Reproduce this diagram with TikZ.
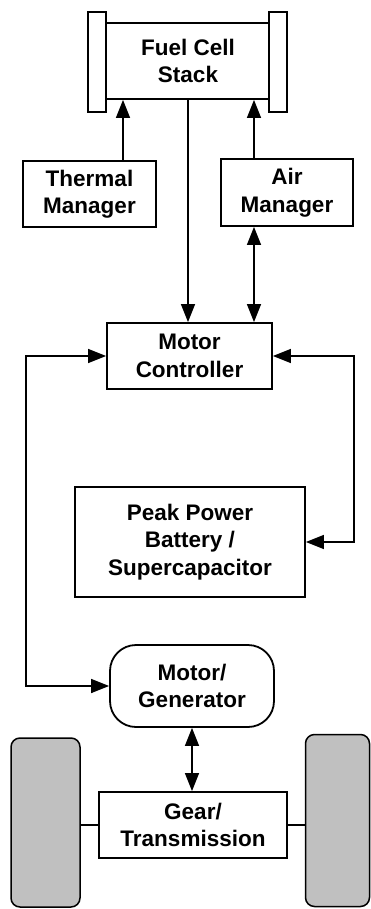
\documentclass[tikz,border=0pt]{standalone}
\usepackage{fontspec}
\setmainfont{Liberation Sans}
\usetikzlibrary{arrows.meta}
\definecolor{wheelgray}{RGB}{192,192,192}
\begin{document}
\begin{tikzpicture}[x=1pt,y=-1pt,
  box/.style={draw, line width=1.8pt, align=center, inner sep=0pt,
    font=\fontsize{22.5}{27.5}\selectfont\bfseries},
  endplate/.style={draw, line width=1.8pt, inner sep=0pt},
  wheel/.style={draw, line width=1.5pt, fill=wheelgray, rounded corners=9pt, inner sep=0pt},
  conn/.style={line width=1.5pt},
  arr/.style={conn, -{Triangle[length=18pt,width=14pt]}},
  darr/.style={conn, {Triangle[length=18pt,width=14pt]}-{Triangle[length=18pt,width=14pt]}}
]
\useasboundingbox (0,0) rectangle (371,909);
% fuel cell stack
\node[endplate, minimum width=18pt, minimum height=100pt] (lc) at (97,62) {};
\node[endplate, minimum width=18pt, minimum height=100pt] (rc) at (278,62) {};
\node[box, minimum width=163pt, minimum height=76pt] (fc) at (188,61) {Fuel Cell\\Stack};
% managers
\node[box, minimum width=133pt, minimum height=66pt] (th) at (89.5,194) {Thermal\\Manager};
\node[box, minimum width=132pt, minimum height=67pt] (air) at (287,192.5) {Air\\Manager};
% motor controller
\node[box, minimum width=165pt, minimum height=66pt] (mc) at (189.5,356) {Motor\\Controller};
% peak power
\node[box, minimum width=230pt, minimum height=110pt] (pk) at (190,542) {Peak Power\\Battery /\\Supercapacitor};
% motor/generator
\node[box, rounded corners=26pt, minimum width=164pt, minimum height=82pt] (mg) at (192,686) {Motor/\\Generator};
% gear
\node[box, minimum width=188pt, minimum height=66pt] (gr) at (193,825) {Gear/\\Transmission};
% wheels
\node[wheel, minimum width=69pt, minimum height=169pt] (lw) at (45.5,822.5) {};
\node[wheel, minimum width=64pt, minimum height=172pt] (rw) at (337.5,820.5) {};
\coordinate (L) at (26,0);
\coordinate (R) at (354,0);
% connectors
\draw[arr] ([xshift=33.5pt]th.north) -- ([xshift=33.5pt]th.north |- fc.south);
\draw[arr] ([xshift=-33pt]air.north) -- ([xshift=-33pt]air.north |- fc.south);
\draw[arr] (fc.south) -- (fc.south |- mc.north);
\draw[darr] ([xshift=-33pt]air.south) -- ([xshift=-33pt]air.south |- mc.north);
\draw[darr] (mc.west) -- (mc.west -| L) -- (mg.west -| L) -- (mg.west);
\draw[darr] (mc.east) -- (mc.east -| R) -- (pk.east -| R) -- (pk.east);
\draw[darr] (mg.south) -- (mg.south |- gr.north);
\draw[conn] (gr.west) -- (gr.west -| lw.east);
\draw[conn] (gr.east) -- (gr.east -| rw.west);
\end{tikzpicture}
\end{document}
